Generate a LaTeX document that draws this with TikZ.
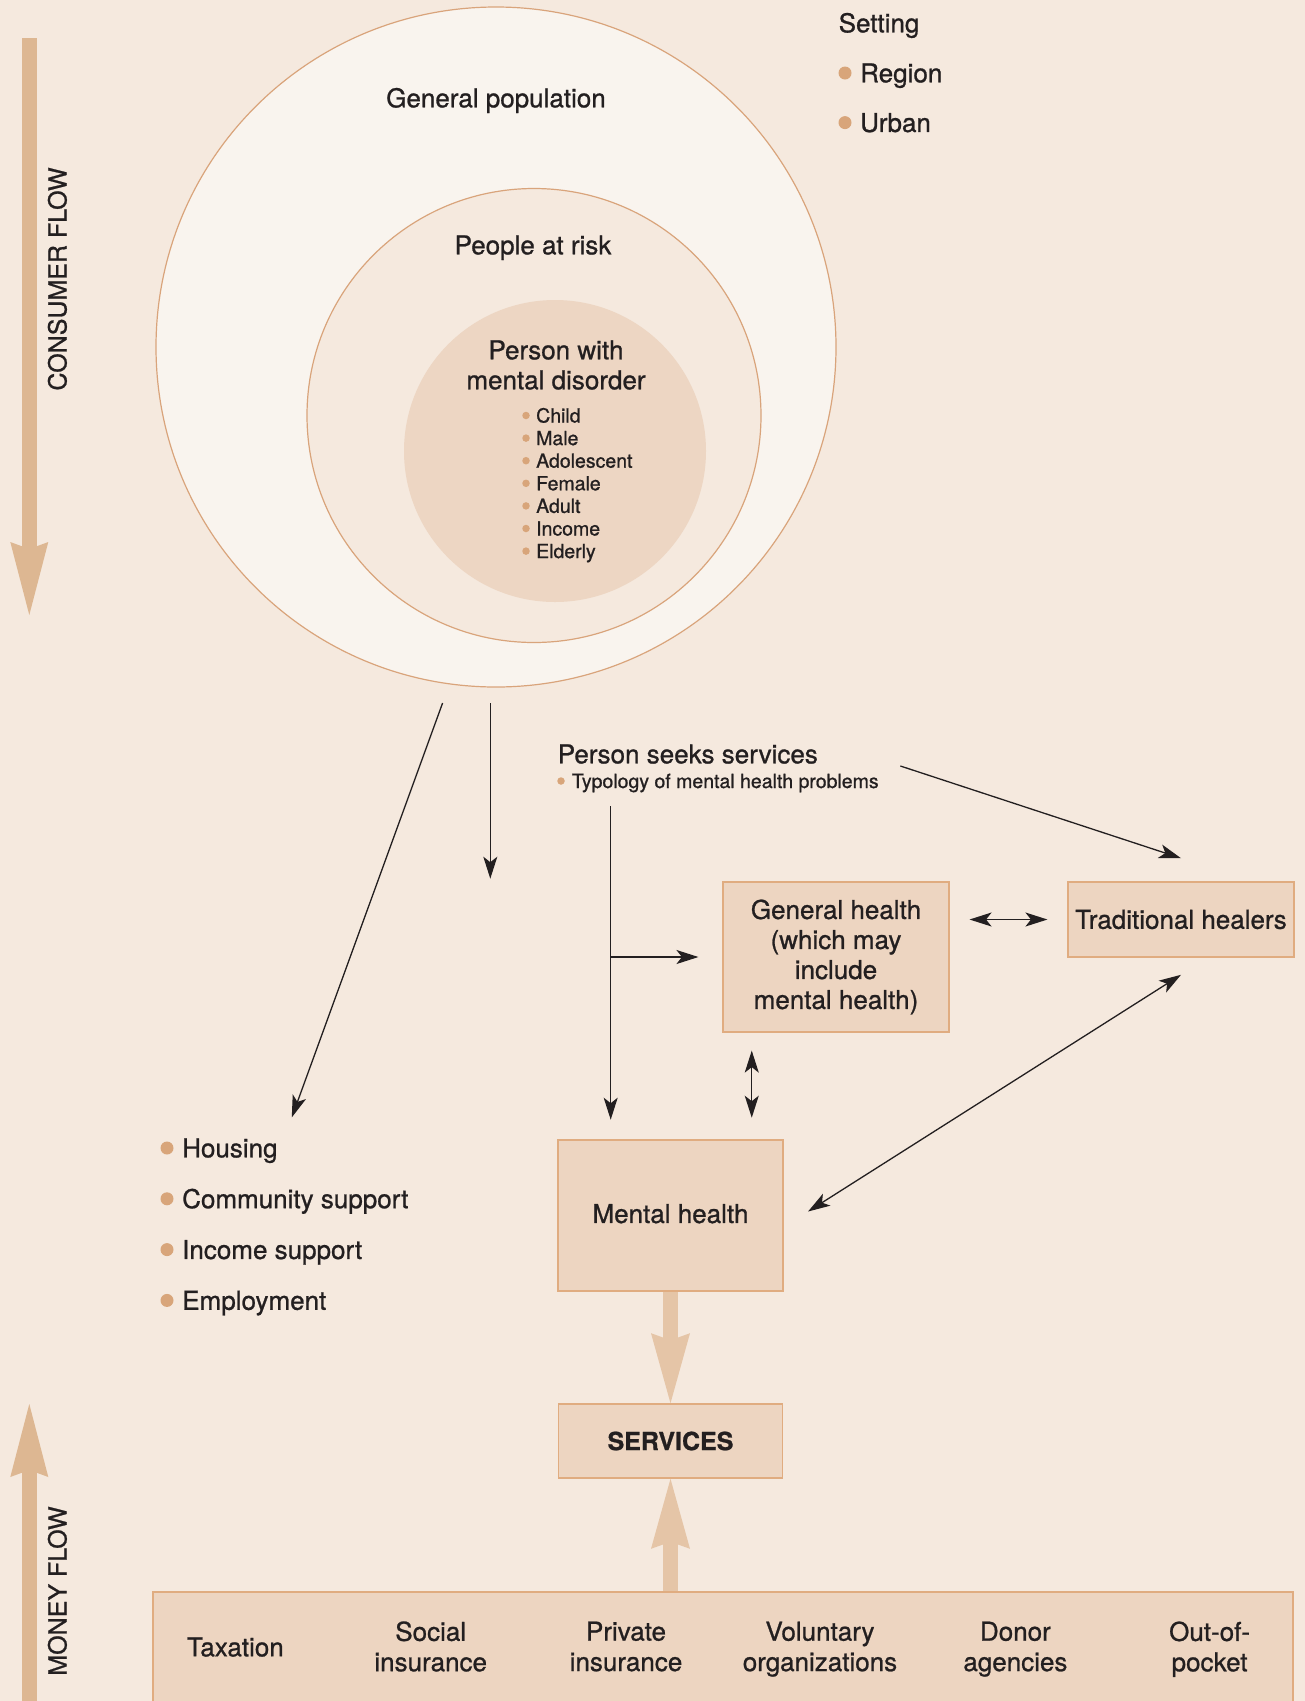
\documentclass[tikz,border=0pt]{standalone}
\usepackage{fontspec}
\setmainfont{TeX Gyre Heros}[FakeBold=0.9]
\usetikzlibrary{arrows.meta,calc}
\definecolor{bg}{HTML}{F5E9DE}
\definecolor{outerfill}{HTML}{F9F4EE}
\definecolor{innerfill}{HTML}{EDD6C3}
\definecolor{boxfill}{HTML}{EDD5C1}
\definecolor{boxline}{HTML}{E0AC80}
\definecolor{circline}{HTML}{D9A47B}
\definecolor{flowc}{HTML}{DDB792}
\definecolor{svarrow}{HTML}{E5C5A7}
\definecolor{bulletc}{HTML}{D8A57A}
\definecolor{ink}{HTML}{231F20}
\begin{document}
\begin{tikzpicture}[x=1pt,y=-1pt,
  txt/.style={inner sep=0, text=ink, font=\fontsize{26}{30}\selectfont, text height=18.7pt, text depth=0pt},
  mltxt/.style={inner sep=0, text=ink, font=\fontsize{26}{30.4}\selectfont, align=center},
  stxt/.style={inner sep=0, text=ink, font=\fontsize{19.5}{22.6}\selectfont, text height=14pt, text depth=0pt, anchor=west},
  bul/.style={circle, fill=bulletc, inner sep=0, minimum size=13pt},
  sbul/.style={circle, fill=bulletc, inner sep=0, minimum size=7.5pt},
  boxn/.style={draw=boxline, fill=boxfill, line width=1.6pt, inner sep=0, text=ink, font=\fontsize{26}{30}\selectfont, align=center},
  conn/.style={draw=ink, line width=1.3pt, -{Stealth[length=22pt,width=14pt,inset=5.5pt]}},
  dconn/.style={draw=ink, line width=1.3pt, {Stealth[length=22pt,width=14pt,inset=5.5pt]}-{Stealth[length=22pt,width=14pt,inset=5.5pt]}},
  flow/.style={draw=flowc, line width=15pt, -{Stealth[length=73pt,width=38pt,inset=7pt,line width=0pt]}},
  svflow/.style={draw=svarrow, line width=15pt, -{Stealth[length=70pt,width=39pt,inset=7pt,line width=0pt]}},
  flowlabel/.style={inner sep=0, text=ink, font=\fontsize{25}{30}\selectfont, text height=18pt, text depth=0pt, rotate=90}
]
\useasboundingbox (0,0) rectangle (1305,1701);
\clip (0,0) rectangle (1305,1701);
\fill[bg] (0,0) rectangle (1305,1701);

% circles
\node[circle, draw=circline, fill=outerfill, line width=1.2pt, minimum size=680pt, inner sep=0] (gp) at (496,347) {};
\node[circle, draw=circline, fill=bg, line width=1.2pt, minimum size=454pt, inner sep=0] (risk) at (534,415.5) {};
\node[circle, fill=innerfill, minimum size=302pt, inner sep=0] (pmd) at (555,451) {};

\node[txt] (gptext) at (496,98) {General population};
\node[txt] (risktext) at (533,245) {People at risk};
\node[mltxt, font=\fontsize{26}{30}\selectfont] (pmdtext) at (556,365) {Person with\\mental disorder};

\foreach \t [count=\i] in {Child,Male,Adolescent,Female,Adult,Income,Elderly} {
  \node[sbul] (db\i) at (526,{415.5+22.6*(\i-1)}) {};
  \node[stxt] (dt\i) at (536,{415.5+22.6*(\i-1)}) {\t};
}

% setting
\node[txt, anchor=west] (setting) at (838.5,23) {Setting};
\node[bul] (sb1) at (845,73) {};
\node[txt, anchor=west] (region) at (860,73) {Region};
\node[bul] (sb2) at (845,122.6) {};
\node[txt, anchor=west] (urban) at (860,122.6) {Urban};

% consumer / money flow
\coordinate (cfs) at (29.3,38);
\coordinate (cfe) at (29.3,615);
\draw[flow] (cfs) -- (cfe);
\node[flowlabel] (cflabel) at (57.5,279) {CONSUMER FLOW};
\coordinate (mfs) at (29.3,1712);
\coordinate (mfe) at (29.3,1404);
\draw[flow] (mfs) -- (mfe);
\node[flowlabel] (mflabel) at (57.5,1591) {MONEY FLOW};

% person seeks services
\node[txt, anchor=west] (seeks) at (557.6,754) {Person seeks services};
\node[sbul] (tb) at (561,781) {};
\node[stxt] (typ) at (571.7,781) {Typology of mental health problems};

% boxes
\node[boxn, minimum width=225.5pt, minimum height=149.6pt] (gh) at (836,957) {General health\\(which may\\include\\mental health)};
\node[boxn, minimum width=225.5pt, minimum height=75pt] (th) at (1181,919.5) {Traditional healers};
\node[boxn, minimum width=225.5pt, minimum height=151pt] (mh) at (670.5,1215.5) {\raisebox{4pt}{Mental health}};
\node[boxn, minimum width=224pt, minimum height=74pt, font=\bfseries\fontsize{25}{30}\selectfont] (sv) at (670.5,1441) {SERVICES};
\node[draw=boxline, fill=boxfill, line width=1.6pt, minimum width=1140pt, minimum height=140pt, inner sep=0] (fund) at (723,1662) {};

% funding sources
\node[txt] (tax) at (235.4,1647) {Taxation};
\node[mltxt] (soc) at (430.7,1646.5) {Social\\insurance};
\node[mltxt] (priv) at (626,1646.5) {Private\\insurance};
\node[mltxt] (vol) at (820,1649.2) {Voluntary\\organizations};
\node[mltxt] (don) at (1015.4,1649.2) {Donor\\agencies};
\node[mltxt] (oop) at (1209.6,1649.2) {Out-of-\\pocket};

% left list
\foreach \t [count=\i] in {Housing,Community support,Income support,Employment} {
  \node[bul] (lb\i) at (167,{1148+50.8*(\i-1)}) {};
  \node[txt, anchor=west] (lt\i) at (182,{1148+50.8*(\i-1)}) {\t};
}

% thick arrows
\draw[svflow] (mh.south) -- (sv.north);
\draw[svflow] (sv.south |- fund.north) -- (sv.south);

% thin arrows
\coordinate (a1s) at (442.6,703);
\coordinate (a1e) at (291.8,1117.4);
\draw[conn] (a1s) -- (a1e);
\coordinate (a2s) at (490.3,703);
\coordinate (a2e) at (490.3,878.7);
\draw[conn] (a2s) -- (a2e);
\coordinate (a3s) at (610.7,806);
\draw[conn] (a3s) -- ($(a3s |- mh.north)+(0,-19.5)$);
\coordinate (br) at (a3s |- gh.west);
\draw[conn, shorten >=24pt] (br) -- (gh.west);
\coordinate (a5s) at (900.4,766);
\draw[conn] (a5s) -- ($(th.north)+(0,-23)$);
\draw[dconn, shorten <=20pt, shorten >=20pt] (gh.east |- th.west) -- (th.west);
\draw[dconn] ($(gh.south west)+(29.3,18)$) -- ($(gh.south west |- mh.north)+(29.3,-21.5)$);
\draw[dconn] ($(th.south)+(0,17)$) -- ($(mh.east)+(24,-4)$);
\end{tikzpicture}
\end{document}
